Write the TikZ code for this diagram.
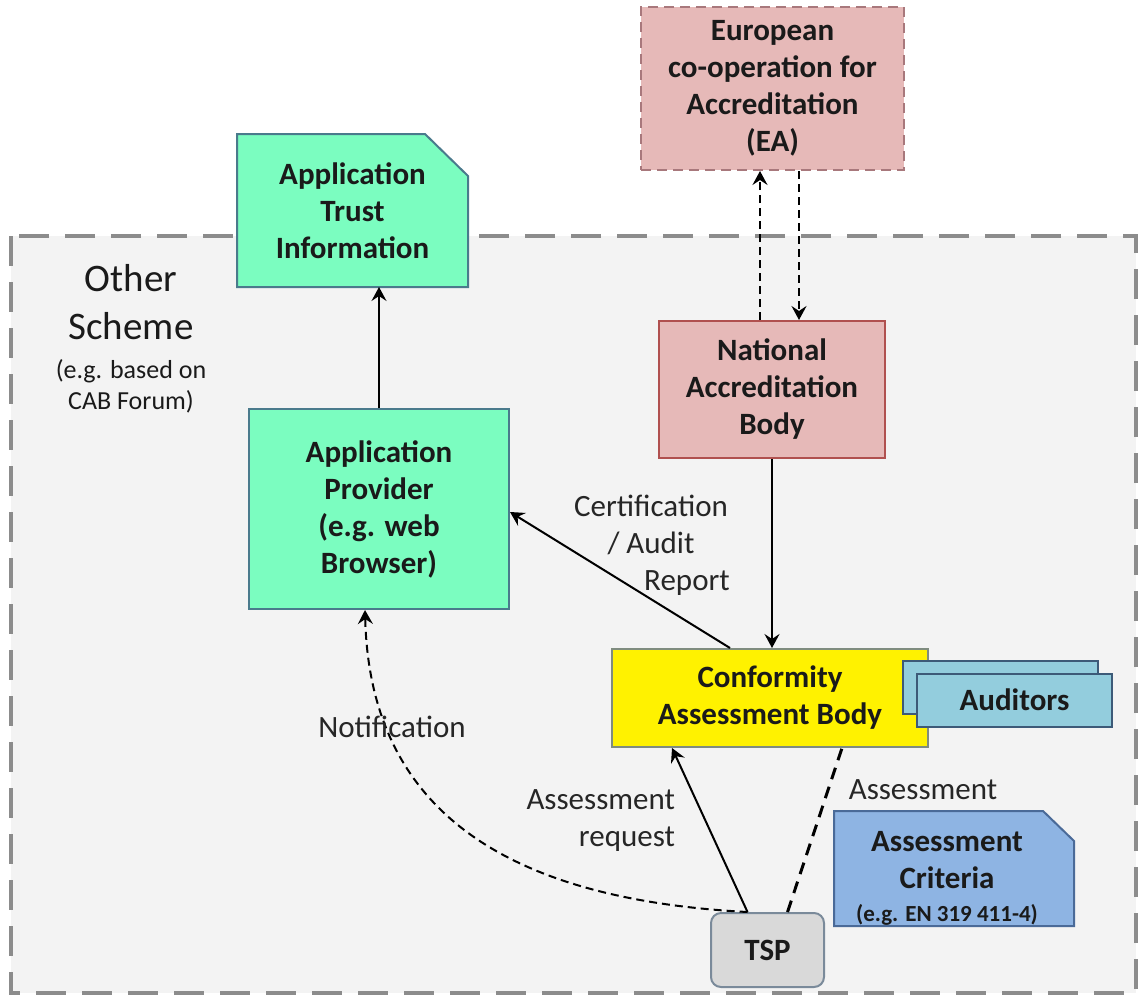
\documentclass[tikz,border=0pt]{standalone}
\usepackage{fontspec}
\setmainfont{Carlito}
\usetikzlibrary{positioning,arrows.meta,backgrounds}

\definecolor{appgreen}{HTML}{7BFDC0}
\definecolor{appedge}{HTML}{4A7A8C}
\definecolor{accpink}{HTML}{E6B9B8}
\definecolor{accedge}{HTML}{B0504F}
\definecolor{eaedge}{HTML}{A8787C}
\definecolor{cabedge}{HTML}{7F8C7F}
\definecolor{audfill}{HTML}{93CDDD}
\definecolor{audedge}{HTML}{3D5A78}
\definecolor{critfill}{HTML}{8EB4E3}
\definecolor{critedge}{HTML}{4A6A98}
\definecolor{tspfill}{HTML}{D9D9D9}
\definecolor{tspedge}{HTML}{7A8A9A}
\definecolor{schemebg}{HTML}{F3F3F3}
\definecolor{schemeedge}{HTML}{8C8C8C}
\definecolor{txt}{HTML}{1A1A1A}

\tikzset{
  box/.style={draw, line width=1pt, align=center, inner sep=2pt, text=txt,
    font=\fontsize{15.5}{18.5}\selectfont\bfseries},
  lbl/.style={align=center, text=black!85, font=\fontsize{15.5}{18.5}\selectfont},
  arr/.style={line width=1pt, -{Stealth[length=7pt,width=7.5pt,inset=2.5pt]}},
  dasharr/.style={arr, dash pattern=on 4pt off 2.5pt},
}

\begin{document}
\begin{tikzpicture}[x=0.5pt, y=-0.5pt]
  \useasboundingbox (0,0) rectangle (1138,995);

  % boxes
  \node[box, fill=accpink, draw=eaedge, dash pattern=on 5pt off 3pt,
    minimum width=131.5pt, minimum height=81.5pt] (ea) at (772.5,88.5)
    {European\\co-operation for\\Accreditation\\(EA)};
  \node[box, draw=none, minimum width=114.5pt, minimum height=75.5pt] (ati) at (352.5,210.5)
    {Application\\Trust\\Information};
  \node[box, fill=appgreen, draw=appedge, minimum width=130pt, minimum height=100pt] (ap) at (379,509)
    {Application\\Provider\\(e.g. web\\Browser)};
  \node[box, fill=accpink, draw=accedge, minimum width=113pt, minimum height=68.5pt] (nab) at (772,389.5)
    {National\\Accreditation\\Body};
  \node[box, fill=yellow, draw=cabedge, minimum width=158pt, minimum height=49pt] (cab) at (770,698)
    {Conformity\\Assessment Body};
  \node[box, fill=audfill, draw=audedge, minimum width=97.5pt, minimum height=26.5pt] (audback) at (1000.5,687) {};
  \node[box, fill=audfill, draw=audedge, minimum width=97.5pt, minimum height=26.5pt] (aud) at (1014.5,700) {Auditors};
  \node[box, draw=none, minimum width=119pt, minimum height=56.5pt] (crit) at (954,868.5) {};
  \node[box, draw=none, inner sep=0pt] (crittext) at ([xshift=-3.5pt, yshift=-5pt]crit.center)
    {Assessment\\Criteria\\[-2pt]{\fontsize{11.5}{13}\selectfont (e.g. EN 319 411-4)}};
  \node[box, fill=tspfill, draw=tspedge, rounded corners=5pt,
    minimum width=56.5pt, minimum height=37pt] (tsp) at (767.5,950) {TSP};

  % scheme title
  \node[align=center, text=txt, font=\fontsize{19.5}{24}\selectfont] (other) at (131,302) {Other\\Scheme};
  \node[align=center, text=txt, font=\fontsize{13}{15.5}\selectfont, below=3pt of other] (otherinfo)
    {(e.g. based on\\CAB Forum)};

  \begin{scope}[on background layer]
    \draw[schemeedge, fill=schemebg, line width=2pt, dash pattern=on 15pt off 8pt]
      (11,236) rectangle (1136,993);
    \draw[appedge, fill=appgreen, line width=1pt] (ati.south west) -- (ati.north west)
      -- ([xshift=-21.5pt]ati.north east) -- ([yshift=-21pt]ati.north east) -- (ati.south east) -- cycle;
    \draw[critedge, fill=critfill, line width=1pt] (crit.south west) -- (crit.north west)
      -- ([xshift=-15.5pt]crit.north east) -- ([yshift=-15pt]crit.north east) -- (crit.south east) -- cycle;
  \end{scope}

  % connectors
  \draw[arr] (ap.north) -- (ap.north |- ati.south);
  \draw[dasharr] ([xshift=-6pt]nab.north) -- ([xshift=-6pt]nab.north |- ea.south);
  \draw[dasharr] ([xshift=13.5pt]nab.north |- ea.south) -- ([xshift=13.5pt]nab.north);
  \draw[arr] (nab.south) -- (nab.south |- cab.north);
  \draw[arr] ([xshift=-20pt]cab.north) -- ([yshift=-1.5pt]ap.east);
  \draw[arr] ([xshift=-10pt]tsp.north) -- ([xshift=-49pt]cab.south);
  \draw[line width=1.5pt, dash pattern=on 6pt off 4pt] ([xshift=10pt]tsp.north) -- ([xshift=36pt]cab.south);
  \draw[dasharr] ([xshift=-10pt]tsp.north) .. controls (520,900) and (370,820) .. ([xshift=-7pt]ap.south);

  % labels
  \node[lbl] (certlbl) at (651,545) {Certification\\/ Audit\\\hspace*{36pt}Report};
  \node[lbl] (notiflbl) at (392,727) {Notification};
  \node[lbl, align=right, anchor=east] (reqlbl) at (682,821) {Assessment\\request};
  \node[lbl] (asslbl) at (923,790) {Assessment};
\end{tikzpicture}
\end{document}
